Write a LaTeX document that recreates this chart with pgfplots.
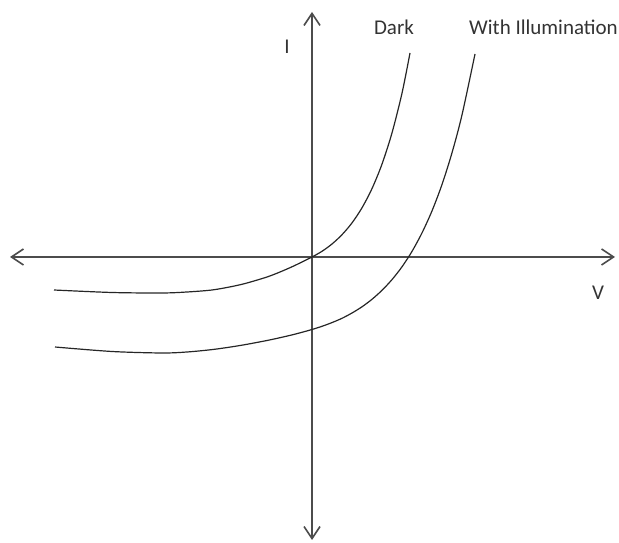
\documentclass[border=0pt]{standalone}
\usepackage{fontspec}
\setmainfont{Carlito}
\usepackage{pgfplots}
\pgfplotsset{compat=1.18}
\usetikzlibrary{arrows.meta}
\begin{document}
\begin{tikzpicture}
\begin{axis}[
  hide axis, scale only axis, width=619pt, height=543pt,
  xmin=-312, xmax=307, ymin=-286, ymax=257,
  clip=false,
]
% frame (invisible) to fix the picture's extent
\addplot[draw=none, forget plot] coordinates {(-312,-286) (307,257)};
% axes
\addplot[black!70, line width=2pt, {Straight Barb[length=12pt,width=16pt,line width=1.6pt]}-{Straight Barb[length=12pt,width=16pt,line width=1.6pt]}]
  coordinates {(-302,0) (303,0)};
\addplot[black!70, line width=2pt, {Straight Barb[length=12pt,width=16pt,line width=1.6pt]}-{Straight Barb[length=12pt,width=16pt,line width=1.6pt]}]
  coordinates {(0,-283) (0,245)};
% Dark
\addplot[black!85, line width=1.2pt, smooth, tension=0.5] coordinates {
 (-258,-33) (-200,-35.5) (-150,-36) (-125,-35) (-100,-33) (-80,-29.5) (-65,-26)
 (-45,-20) (-32,-15) (-20,-9.8) (-10,-5) (0,0) (10,5.7) (20,13) (30,22.3)
 (40,34.1) (50,49.2) (60,68.4) (70,92.9) (80,124.1) (90,163.8) (98,204)};
% With illumination
\addplot[black!85, line width=1.2pt, smooth, tension=0.5] coordinates {
 (-257,-90) (-200,-94.5) (-150,-96) (-125,-95) (-100,-92.6) (-80,-89.8) (-65,-87.3)
 (-45,-83.5) (-32,-80.7) (-20,-77.9) (-10,-75.3) (0,-72.5) (10,-69.3) (20,-65.6)
 (30,-61.3) (40,-56) (50,-49.8) (60,-42.3) (70,-33.3) (80,-22.6) (90,-9.8)
 (100,5.6) (110,24.1) (120,46.1) (130,72.5) (140,104.2) (150,142.1) (163,203)};
\node[font=\fontsize{21}{24}\selectfont, text=black!80] at (axis cs:-25,210) {I};
\node[font=\fontsize{21}{24}\selectfont, text=black!80] at (axis cs:286,-36) {V};
\node[font=\fontsize{21}{24}\selectfont, text=black!80] at (axis cs:82,230) {Dark};
\node[font=\fontsize{21}{24}\selectfont, text=black!80, anchor=east, inner sep=0pt] at (axis cs:306,230) {With Illumination};
\end{axis}
\end{tikzpicture}
\end{document}
